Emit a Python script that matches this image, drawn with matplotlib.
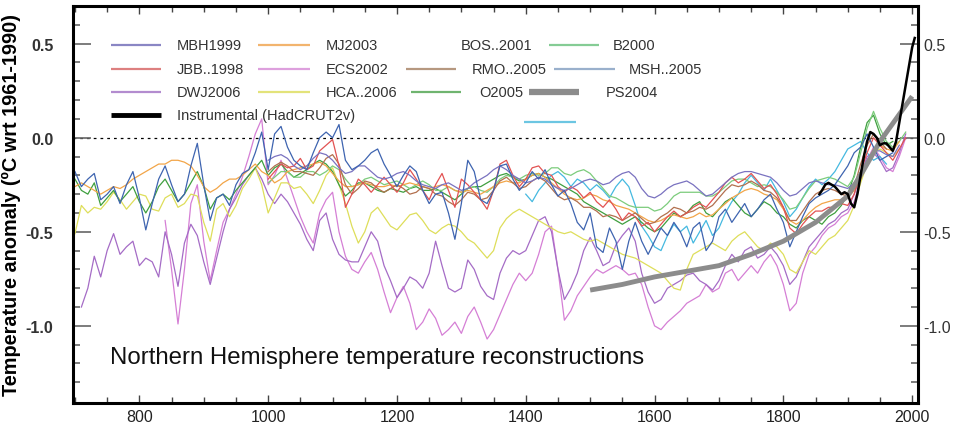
import numpy as np
import matplotlib
matplotlib.use("Agg")
import matplotlib.pyplot as plt
from matplotlib.lines import Line2D

plt.rcParams['font.family'] = ['Liberation Sans', 'DejaVu Sans']

# ---------------- data (decadal values, deg C wrt 1961-1990) ----------------
MSH_start = 700
MSH_vals = [-0.18, -0.26, -0.22, -0.19, -0.33, -0.30, -0.26, -0.35, -0.25, -0.18,
            -0.32, -0.49, -0.35, -0.22, -0.15, -0.25, -0.34, -0.30, -0.15, -0.03,
            -0.25, -0.44, -0.32, -0.30, -0.36, -0.25, -0.19, -0.17, -0.08, 0.03,
            -0.17, 0.02, 0.06, -0.05, -0.12, -0.15, -0.17, -0.08, 0.00, 0.03,
            0.00, 0.07, -0.12, -0.17, -0.15, -0.12, -0.08, -0.06, -0.14, -0.20,
            -0.26, -0.20, -0.15, -0.18, -0.28, -0.35, -0.30, -0.29, -0.40, -0.54,
            -0.35, -0.12, -0.18, -0.33, -0.35, -0.28, -0.15, -0.14, -0.22, -0.28,
            -0.24, -0.18, -0.22, -0.17, -0.25, -0.31, -0.28, -0.35, -0.45, -0.49,
            -0.40, -0.58, -0.61, -0.48, -0.55, -0.70, -0.55, -0.45, -0.55, -0.62,
            -0.55, -0.48, -0.52, -0.45, -0.50, -0.58, -0.48, -0.45, -0.60, -0.55,
            -0.42, -0.38, -0.45, -0.40, -0.35, -0.42, -0.38, -0.33, -0.30, -0.38,
            -0.45, -0.58, -0.50, -0.42, -0.35, -0.32, -0.30, -0.28, -0.25, -0.20,
            -0.15, -0.08, -0.05, 0.02, -0.05, -0.12, -0.10, -0.08]

MBH_start = 1000
MBH_vals = [-0.12, -0.10, -0.09, -0.11, -0.15, -0.17, -0.15, -0.11, -0.08, -0.09,
            -0.12, -0.16, -0.19, -0.18, -0.15, -0.15, -0.18, -0.21, -0.22, -0.21,
            -0.19, -0.18, -0.20, -0.23, -0.25, -0.26, -0.27, -0.25, -0.24, -0.26,
            -0.28, -0.27, -0.24, -0.22, -0.20, -0.17, -0.15, -0.17, -0.20, -0.22,
            -0.24, -0.23, -0.21, -0.22, -0.25, -0.27, -0.28, -0.27, -0.25, -0.23,
            -0.22, -0.23, -0.25, -0.24, -0.21, -0.19, -0.18, -0.21, -0.27, -0.31,
            -0.32, -0.30, -0.27, -0.25, -0.24, -0.23, -0.25, -0.28, -0.31, -0.30,
            -0.27, -0.24, -0.21, -0.19, -0.18, -0.18, -0.19, -0.20, -0.21, -0.24,
            -0.28, -0.31, -0.30, -0.27, -0.24, -0.23, -0.24, -0.25, -0.25, -0.26,
            -0.27, -0.24, -0.18, -0.12, -0.07, -0.07, -0.09, -0.10, -0.04]

JBB_start = 1000
JBB_vals = [-0.22, -0.18, -0.14, -0.16, -0.15, -0.11, -0.17, -0.15, -0.07, -0.04,
            -0.01, -0.15, -0.37, -0.30, -0.22, -0.25, -0.29, -0.25, -0.21, -0.25,
            -0.29, -0.24, -0.17, -0.22, -0.28, -0.33, -0.25, -0.19, -0.28, -0.37,
            -0.22, -0.25, -0.29, -0.33, -0.38, -0.28, -0.14, -0.12, -0.20, -0.26,
            -0.22, -0.16, -0.15, -0.19, -0.20, -0.26, -0.29, -0.26, -0.28, -0.32,
            -0.29, -0.34, -0.37, -0.33, -0.38, -0.44, -0.40, -0.42, -0.47, -0.45,
            -0.50, -0.46, -0.42, -0.39, -0.42, -0.40, -0.37, -0.35, -0.37, -0.33,
            -0.29, -0.24, -0.21, -0.24, -0.22, -0.19, -0.23, -0.27, -0.25, -0.30,
            -0.37, -0.48, -0.51, -0.46, -0.42, -0.39, -0.39, -0.37, -0.37, -0.35,
            -0.36, -0.30, -0.18, -0.08, 0.00, -0.04, -0.08, -0.12, -0.06, 0.00]

MJ_start = 700
MJ_vals = [-0.26, -0.24, -0.26, -0.28, -0.30, -0.28, -0.26, -0.27, -0.25, -0.22,
           -0.20, -0.18, -0.16, -0.14, -0.14, -0.12, -0.12, -0.13, -0.15, -0.20,
           -0.26, -0.29, -0.27, -0.24, -0.22, -0.22, -0.20, -0.17, -0.14, -0.18,
           -0.20, -0.24, -0.22, -0.18, -0.17, -0.16, -0.15, -0.14, -0.13, -0.15,
           -0.19, -0.23, -0.26, -0.26, -0.25, -0.24, -0.25, -0.26, -0.26, -0.25,
           -0.26, -0.25, -0.24, -0.25, -0.26, -0.27, -0.26, -0.25, -0.26, -0.28,
           -0.29, -0.28, -0.29, -0.30, -0.28, -0.26, -0.24, -0.23, -0.24, -0.24,
           -0.22, -0.20, -0.19, -0.21, -0.24, -0.27, -0.30, -0.32, -0.33, -0.32,
           -0.30, -0.31, -0.33, -0.34, -0.36, -0.37, -0.38, -0.40, -0.42, -0.44,
           -0.45, -0.44, -0.42, -0.41, -0.42, -0.43, -0.42, -0.40, -0.42, -0.41,
           -0.38, -0.35, -0.32, -0.30, -0.28, -0.27, -0.28, -0.30, -0.31, -0.33,
           -0.38, -0.44, -0.46, -0.44, -0.40, -0.37, -0.35, -0.34, -0.33, -0.33,
           -0.32, -0.28, -0.22, -0.14, -0.06, -0.04, -0.06, -0.07, -0.02]

HCA_start = 700
HCA_vals = [-0.51, -0.36, -0.40, -0.37, -0.38, -0.34, -0.29, -0.33, -0.38, -0.34,
            -0.30, -0.31, -0.38, -0.39, -0.32, -0.30, -0.37, -0.35, -0.30, -0.31,
            -0.45, -0.55, -0.38, -0.35, -0.42, -0.36, -0.27, -0.22, -0.16, -0.25,
            -0.40, -0.32, -0.24, -0.24, -0.27, -0.26, -0.30, -0.35, -0.28, -0.20,
            -0.16, -0.25, -0.35, -0.47, -0.56, -0.50, -0.40, -0.37, -0.42, -0.47,
            -0.49, -0.45, -0.41, -0.40, -0.44, -0.49, -0.51, -0.48, -0.46, -0.47,
            -0.50, -0.54, -0.56, -0.60, -0.64, -0.60, -0.48, -0.43, -0.40, -0.38,
            -0.40, -0.42, -0.44, -0.46, -0.48, -0.50, -0.51, -0.50, -0.52, -0.54,
            -0.55, -0.54, -0.56, -0.58, -0.60, -0.62, -0.63, -0.64, -0.66, -0.68,
            -0.70, -0.72, -0.76, -0.80, -0.81, -0.70, -0.62, -0.60, -0.58, -0.56,
            -0.58, -0.60, -0.55, -0.52, -0.50, -0.54, -0.58, -0.60, -0.56, -0.58,
            -0.62, -0.70, -0.72, -0.66, -0.60, -0.62, -0.58, -0.54, -0.52, -0.48,
            -0.44, -0.36, -0.24, -0.14, -0.08, -0.06, -0.08, -0.10, -0.06]

DWJ_start = 710
DWJ_vals = [-0.90, -0.80, -0.63, -0.74, -0.60, -0.51, -0.62, -0.58, -0.55,
            -0.68, -0.64, -0.66, -0.74, -0.50, -0.62, -0.79, -0.56, -0.46, -0.52,
            -0.66, -0.78, -0.64, -0.50, -0.38, -0.32, -0.25, -0.20, -0.16, -0.22,
            -0.30, -0.35, -0.30, -0.34, -0.40, -0.46, -0.54, -0.60, -0.44, -0.40,
            -0.54, -0.62, -0.65, -0.66, -0.66, -0.58, -0.50, -0.55, -0.68, -0.76,
            -0.85, -0.80, -0.74, -0.76, -0.80, -0.72, -0.55, -0.68, -0.80, -0.82,
            -0.80, -0.65, -0.70, -0.79, -0.84, -0.86, -0.72, -0.64, -0.60, -0.62,
            -0.60, -0.52, -0.44, -0.42, -0.50, -0.70, -0.86, -0.80, -0.72, -0.60,
            -0.53, -0.60, -0.68, -0.66, -0.57, -0.52, -0.48, -0.55, -0.72, -0.82,
            -0.88, -0.86, -0.80, -0.78, -0.76, -0.73, -0.72, -0.76, -0.78, -0.81,
            -0.76, -0.68, -0.62, -0.66, -0.60, -0.58, -0.64, -0.62, -0.58, -0.62,
            -0.68, -0.78, -0.74, -0.66, -0.58, -0.54, -0.50, -0.46, -0.44, -0.40,
            -0.38, -0.30, -0.20, -0.10, -0.08, -0.12, -0.18, -0.16, -0.08, 0.02]

ECS_start = 840
ECS_vals = [-0.44, -0.70, -0.99, -0.70, -0.35, -0.25,
            -0.55, -0.76, -0.60, -0.45, -0.38, -0.30, -0.21, -0.10, 0.02, 0.10,
            -0.25, -0.20, -0.12, -0.22, -0.32, -0.42, -0.50, -0.56, -0.40, -0.33,
            -0.29, -0.50, -0.63, -0.70, -0.72, -0.66, -0.61, -0.70, -0.82, -0.93,
            -0.85, -0.79, -0.88, -1.02, -0.98, -0.91, -0.96, -1.05, -1.02, -0.98,
            -1.04, -0.95, -0.90, -0.98, -1.07, -1.02, -0.94, -0.86, -0.78, -0.72,
            -0.76, -0.72, -0.62, -0.50, -0.47, -0.70, -0.97, -0.92, -0.84, -0.79,
            -0.74, -0.70, -0.72, -0.70, -0.68, -0.70, -0.73, -0.72, -0.78, -0.90,
            -1.00, -1.02, -0.98, -0.95, -0.92, -0.88, -0.86, -0.84, -0.78, -0.82,
            -0.80, -0.72, -0.70, -0.76, -0.72, -0.68, -0.72, -0.66, -0.62, -0.68,
            -0.78, -0.92, -0.88, -0.72, -0.62, -0.58, -0.52, -0.48, -0.46, -0.42,
            -0.40, -0.34, -0.22, -0.12, -0.05, -0.10, -0.16, -0.18, -0.10, 0.00]

O2005_start = 700
O2005_vals = [-0.22, -0.28, -0.30, -0.24, -0.36, -0.32, -0.28, -0.34, -0.30, -0.26,
              -0.34, -0.40, -0.34, -0.26, -0.22, -0.28, -0.34, -0.30, -0.24, -0.18,
              -0.26, -0.38, -0.32, -0.30, -0.33, -0.28, -0.24, -0.20, -0.16, -0.12,
              -0.20, -0.16, -0.14, -0.18, -0.21, -0.19, -0.17, -0.14, -0.12, -0.14,
              -0.18, -0.25, -0.31, -0.28, -0.24, -0.24, -0.26, -0.28, -0.29, -0.27,
              -0.28, -0.29, -0.27, -0.26, -0.28, -0.28, -0.27, -0.29, -0.31, -0.33,
              -0.30, -0.27, -0.26, -0.26, -0.24, -0.22, -0.20, -0.19, -0.21, -0.23,
              -0.22, -0.20, -0.19, -0.21, -0.22, -0.24, -0.26, -0.28, -0.30, -0.34,
              -0.36, -0.38, -0.40, -0.42, -0.44, -0.46, -0.44, -0.42, -0.45, -0.48,
              -0.50, -0.48, -0.44, -0.40, -0.42, -0.40, -0.36, -0.34, -0.40, -0.42,
              -0.38, -0.34, -0.32, -0.36, -0.40, -0.42, -0.38, -0.34, -0.36, -0.40,
              -0.42, -0.46, -0.48, -0.44, -0.42, -0.44, -0.46, -0.42, -0.40, -0.36,
              -0.30, -0.20, -0.05, 0.08, 0.12, 0.02, -0.04, -0.02]

B2000_start = 1000
B2000_vals = [-0.24, -0.21, -0.18, -0.18, -0.21, -0.21, -0.18, -0.18, -0.20, -0.18,
              -0.15, -0.17, -0.22, -0.26, -0.25, -0.22, -0.21, -0.23, -0.25, -0.24,
              -0.23, -0.25, -0.27, -0.25, -0.23, -0.25, -0.28, -0.28, -0.26, -0.28,
              -0.29, -0.27, -0.26, -0.28, -0.29, -0.26, -0.22, -0.20, -0.21, -0.22,
              -0.20, -0.19, -0.20, -0.19, -0.16, -0.16, -0.19, -0.20, -0.18, -0.17,
              -0.19, -0.23, -0.27, -0.31, -0.32, -0.34, -0.36, -0.37, -0.37, -0.37,
              -0.39, -0.38, -0.35, -0.31, -0.29, -0.29, -0.29, -0.29, -0.31, -0.31,
              -0.29, -0.26, -0.23, -0.22, -0.22, -0.24, -0.26, -0.25, -0.26, -0.29,
              -0.33, -0.38, -0.37, -0.32, -0.27, -0.23, -0.22, -0.21, -0.22, -0.24,
              -0.26, -0.21, -0.08, 0.05, 0.14, 0.05, -0.02, -0.05, -0.02, 0.03]

RMO_start = 1000
RMO_vals = [-0.18, -0.15, -0.13, -0.15, -0.18, -0.18, -0.19, -0.20, -0.16, -0.11,
            -0.09, -0.14, -0.25, -0.30, -0.27, -0.23, -0.24, -0.27, -0.29, -0.27,
            -0.25, -0.27, -0.30, -0.29, -0.26, -0.27, -0.30, -0.31, -0.34, -0.36,
            -0.33, -0.29, -0.30, -0.33, -0.32, -0.28, -0.23, -0.21, -0.24, -0.27,
            -0.26, -0.23, -0.21, -0.23, -0.27, -0.31, -0.33, -0.32, -0.34, -0.37,
            -0.37, -0.39, -0.42, -0.41, -0.42, -0.44, -0.42, -0.40, -0.43, -0.46,
            -0.45, -0.42, -0.40, -0.37, -0.38, -0.40, -0.39, -0.37, -0.38, -0.36,
            -0.32, -0.28, -0.25, -0.26, -0.25, -0.23, -0.25, -0.28, -0.29, -0.32,
            -0.37, -0.44, -0.44, -0.39, -0.34, -0.30, -0.28, -0.27, -0.28, -0.30,
            -0.31, -0.26, -0.14, -0.04, 0.02, -0.02, -0.06]

BOS_start = 1400
BOS_vals = [-0.30, -0.34, -0.28, -0.24, -0.20, -0.18, -0.21, -0.26, -0.22, -0.24,
            -0.28, -0.25, -0.28, -0.32, -0.26, -0.22, -0.26, -0.36, -0.47, -0.52,
            -0.58, -0.60, -0.52, -0.46, -0.50, -0.47, -0.56, -0.50, -0.44, -0.52,
            -0.48, -0.40, -0.34, -0.30, -0.24, -0.20, -0.24, -0.28, -0.22, -0.28,
            -0.34, -0.42, -0.38, -0.32, -0.26, -0.22, -0.25, -0.22, -0.18, -0.12,
            -0.06, -0.04, -0.02, -0.08, -0.12, -0.10, -0.14]

PS2004_years = [1500, 1550, 1600, 1650, 1700, 1750, 1800, 1850, 1900, 1925, 1950, 1975, 2000]
PS2004_vals = [-0.81, -0.78, -0.74, -0.71, -0.68, -0.62, -0.55, -0.45, -0.31, -0.17, -0.02, 0.10, 0.22]

HadCRUT_years = [1856, 1860, 1865, 1870, 1875, 1880, 1885, 1890, 1895, 1900, 1905, 1910,
                 1915, 1920, 1925, 1930, 1935, 1940, 1945, 1950, 1955, 1960, 1965, 1970,
                 1975, 1980, 1985, 1990, 1995, 2000, 2004]
HadCRUT_vals = [-0.30, -0.28, -0.25, -0.24, -0.25, -0.26, -0.28, -0.30, -0.29, -0.30, -0.35, -0.37,
                -0.30, -0.20, -0.10, -0.02, 0.03, 0.02, 0.00, -0.04, -0.03, -0.03, -0.05, -0.07,
                -0.02, 0.08, 0.18, 0.28, 0.38, 0.48, 0.53]

# ---------------- plotting ----------------
fig = plt.figure(figsize=(9.57, 4.27), dpi=100)
ax = fig.add_axes([0.0763, 0.0539, 0.8829, 0.9297])

def decadal(start, vals):
    return np.arange(len(vals)) * 10 + start

series = [
    (ECS_start, ECS_vals, '#d57fd5'),
    (DWJ_start, DWJ_vals, '#a56cc6'),
    (HCA_start, HCA_vals, '#dede5a'),
    (BOS_start, BOS_vals, '#45b9e0'),
    (O2005_start, O2005_vals, '#3f9f3f'),
    (B2000_start, B2000_vals, '#7ccc7c'),
    (MJ_start, MJ_vals, '#f2a548'),
    (RMO_start, RMO_vals, '#b2704e'),
    (JBB_start, JBB_vals, '#e25252'),
    (MBH_start, MBH_vals, '#7a72c0'),
    (MSH_start, MSH_vals, '#3e64b0'),
]
for start, vals, col in series:
    ax.plot(decadal(start, vals), vals, color=col, lw=0.9, zorder=2,
            solid_joinstyle='round')

ax.plot(PS2004_years, PS2004_vals, color='#8c8c8c', lw=3.5, solid_capstyle='butt', zorder=3)
ax.plot(HadCRUT_years, HadCRUT_vals, color='black', lw=1.8, zorder=4)

ax.axhline(0, color='black', lw=0.9, ls=(0, (2.2, 3.2)), zorder=1)

ax.set_xlim(697, 2009)
ax.set_ylim(-1.41, 0.70)

ax.set_xticks([800, 1000, 1200, 1400, 1600, 1800, 2000])
ax.set_xticks(np.arange(700, 2001, 50), minor=True)
ax.set_yticks([-1.0, -0.5, 0.0, 0.5])
ax.set_yticks(np.arange(-1.3, 0.65, 0.1), minor=True)
ax.set_yticklabels(['-1.0', '-0.5', '0.0', '0.5'])

for s in ax.spines.values():
    s.set_linewidth(2.2)

ax.tick_params(axis='x', which='both', direction='in', top=True, bottom=True,
               width=1.0, color='#444444', labelsize=11.5, pad=4)
ax.tick_params(axis='x', which='major', length=6)
ax.tick_params(axis='x', which='minor', length=4)
ax.tick_params(axis='y', which='both', direction='in', left=True, right=True,
               width=1.2, color='#666666', labelsize=11.5, pad=14)
ax.tick_params(axis='y', which='major', length=13)
ax.tick_params(axis='y', which='minor', length=5)
for lab in ax.get_yticklabels():
    lab.set_fontweight('bold')
    lab.set_color('#333333')
for lab in ax.get_xticklabels():
    lab.set_color('#222222')

sec = ax.secondary_yaxis('right')
sec.set_yticks([-1.0, -0.5, 0.0, 0.5])
sec.set_yticklabels(['-1.0', '-0.5', '0.0', '0.5'])
sec.tick_params(axis='y', length=0, labelsize=11.5, pad=4)
sec.spines['right'].set_visible(False)
for lab in sec.get_yticklabels():
    lab.set_color('#333333')

ax.set_ylabel('Temperature anomaly (\u00baC wrt 1961-1990)', fontsize=14.3,
              fontweight='bold')
ax.yaxis.set_label_coords(-0.062, 0.5)

ax.text(0.044, 0.115, 'Northern Hemisphere temperature reconstructions',
        transform=ax.transAxes, fontsize=17.3, color='#111111', va='center', ha='left')

# ---------------- legend (drawn by hand) ----------------
def px_to_axes(xp, yp):
    # convert reference-pixel position to axes fraction
    return (xp - 73) / 845.0, (404 - yp) / 397.0

legend_items = [
    ('MBH1999', '#8a86c4', 1.6, 111, 161, 177, 46),
    ('JBB..1998', '#dd8080', 1.6, 111, 161, 177, 70),
    ('DWJ2006', '#b38ccf', 1.6, 111, 161, 177, 93),
    ('Instrumental (HadCRUT2v)', '#000000', 3.5, 111, 161, 177, 116),
    ('MJ2003', '#f2b46e', 1.6, 258, 310, 326, 46),
    ('ECS2002', '#dda0dd', 1.6, 258, 310, 326, 70),
    ('HCA..2006', '#e3e37a', 1.6, 258, 310, 326, 93),
    ('BOS..2001', None, 1.6, 0, 0, 461, 46),
    ('RMO..2005', '#b69880', 1.6, 406, 456, 472, 70),
    ('O2005', '#6fb46f', 1.6, 411, 461, 479, 93),
    ('B2000', '#85cc95', 1.6, 549, 599, 613, 46),
    ('MSH..2005', '#9ab0cc', 1.6, 554, 615, 629, 70),
    ('PS2004', '#8c8c8c', 4.5, 529, 579, 606, 93),
]
for label, col, lw, x0, x1, xt, yp in legend_items:
    if col is not None:
        ax0, ay = px_to_axes(x0, yp)
        ax1, _ = px_to_axes(x1, yp)
        ax.add_line(Line2D([ax0, ax1], [ay, ay], transform=ax.transAxes,
                           color=col, lw=lw, solid_capstyle='butt', zorder=5))
    tx, ty = px_to_axes(xt, yp)
    ax.text(tx, ty, label, transform=ax.transAxes, fontsize=10.5,
            color='#333333', va='center', ha='left', zorder=5)

# stray BOS..2001 legend swatch
sx0, sy = px_to_axes(524, 123)
sx1, _ = px_to_axes(576, 123)
ax.add_line(Line2D([sx0, sx1], [sy, sy], transform=ax.transAxes,
                   color='#6cc6e2', lw=1.6, solid_capstyle='butt', zorder=5))

fig.savefig('out.png', dpi=100)
